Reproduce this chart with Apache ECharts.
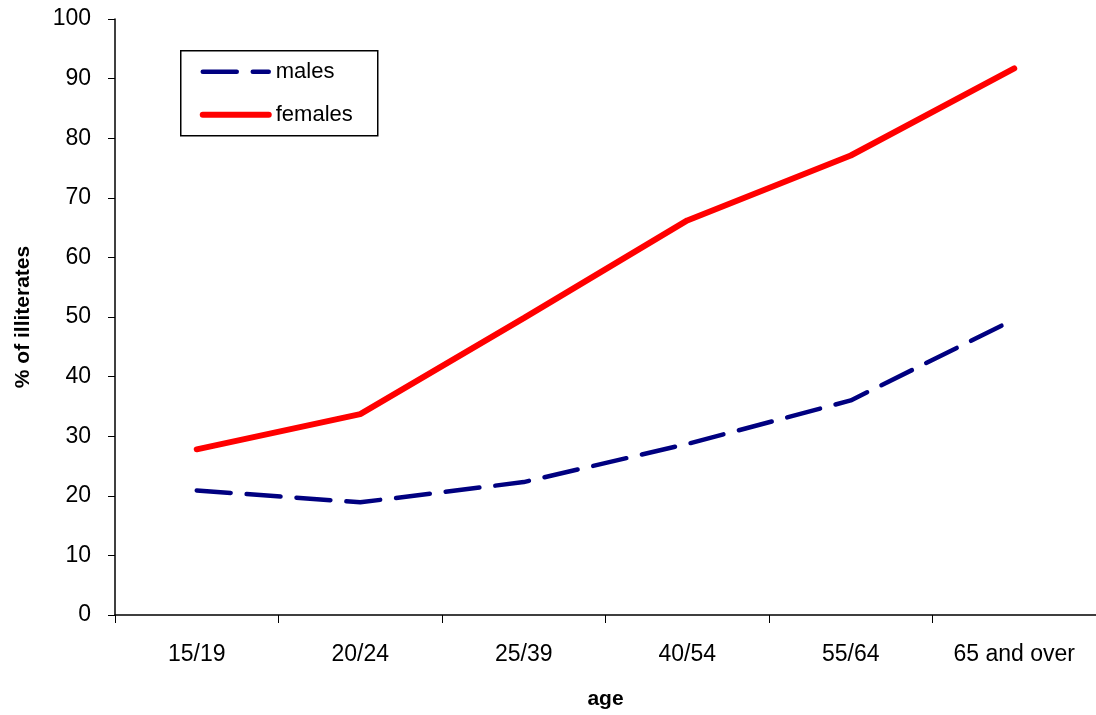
<!DOCTYPE html>
<html>
<head>
<meta charset="utf-8">
<script src="https://cdn.jsdelivr.net/npm/echarts@6/dist/echarts.min.js"></script>
<style>
  html, body { margin: 0; padding: 0; background: #fff; }
  #chart { width: 1096px; height: 715px; }
</style>
</head>
<body>
<div id="chart"></div>
<script>
// Age groups along the horizontal axis
const ageGroups = ['15/19', '20/24', '25/39', '40/54', '55/64', '65 and over'];

// Share of illiterates (%) per age group
const males = [20.9, 18.9, 22.3, 28.7, 36.0, 49.6];
const females = [27.8, 33.7, 49.8, 66.2, 77.1, 91.7];

// Value axis range
const yMin = 0;
const yMax = 100;
const yStep = 10;

const FONT = '"Liberation Sans", Arial, sans-serif';
const MALE_COLOR = '#000080';
const FEMALE_COLOR = '#ff0000';
const MALE_DASH = [34, 16];

const chart = echarts.init(document.getElementById('chart'), null, { renderer: 'canvas' });

// Boxed legend with line keys drawn in the same styles as the series
const legendBox = {
  type: 'group',
  left: 180,
  top: 50,
  children: [
    { type: 'rect', shape: { x: 0, y: 0, width: 197, height: 85 },
      style: { fill: '#fff', stroke: '#000', lineWidth: 1.5 } },
    { type: 'line', shape: { x1: 22, y1: 21, x2: 88, y2: 21 },
      style: { stroke: MALE_COLOR, lineWidth: 4.5, lineDash: MALE_DASH, lineCap: 'round' } },
    { type: 'text', x: 95, y: 21,
      style: { text: 'males', font: '22px ' + FONT, fill: '#000', verticalAlign: 'middle' } },
    { type: 'line', shape: { x1: 22, y1: 64, x2: 88, y2: 64 },
      style: { stroke: FEMALE_COLOR, lineWidth: 6, lineCap: 'round' } },
    { type: 'text', x: 95, y: 64,
      style: { text: 'females', font: '22px ' + FONT, fill: '#000', verticalAlign: 'middle' } }
  ]
};

chart.setOption({
  animation: false,
  backgroundColor: '#ffffff',
  textStyle: { fontFamily: FONT, color: '#000' },
  grid: { left: 115, top: 19, right: -5, height: 601, containLabel: false },
  graphic: [legendBox],
  xAxis: {
    type: 'category',
    data: ageGroups,
    boundaryGap: true,
    name: 'age',
    nameLocation: 'middle',
    nameGap: 74,
    nameTextStyle: { fontFamily: FONT, fontSize: 21, fontWeight: 'bold', color: '#000' },
    axisLine: { lineStyle: { color: '#000', width: 1.5 } },
    axisTick: { show: true, inside: false, length: 8, lineStyle: { color: '#000', width: 1 } },
    axisLabel: { fontFamily: FONT, fontSize: 23, color: '#000', margin: 28, interval: 0 },
    splitLine: { show: false }
  },
  yAxis: {
    type: 'value',
    min: yMin,
    max: yMax,
    interval: yStep,
    name: '% of illiterates',
    nameLocation: 'middle',
    nameGap: 81,
    nameRotate: 90,
    nameTextStyle: { fontFamily: FONT, fontSize: 21, fontWeight: 'bold', color: '#000' },
    axisLine: { show: true, lineStyle: { color: '#000', width: 1.5 } },
    axisTick: { show: true, inside: false, length: 7, lineStyle: { color: '#000', width: 1 } },
    axisLabel: { fontFamily: FONT, fontSize: 23, color: '#000', margin: 24 },
    splitLine: { show: false }
  },
  series: [
    {
      name: 'males',
      type: 'line',
      data: males,
      symbol: 'none',
      z: 3,
      lineStyle: { color: MALE_COLOR, width: 4.5, type: MALE_DASH, cap: 'round' },
      itemStyle: { color: MALE_COLOR }
    },
    {
      name: 'females',
      type: 'line',
      data: females,
      symbol: 'none',
      z: 4,
      lineStyle: { color: FEMALE_COLOR, width: 6, cap: 'round' },
      itemStyle: { color: FEMALE_COLOR }
    }
  ]
});
</script>
</body>
</html>
